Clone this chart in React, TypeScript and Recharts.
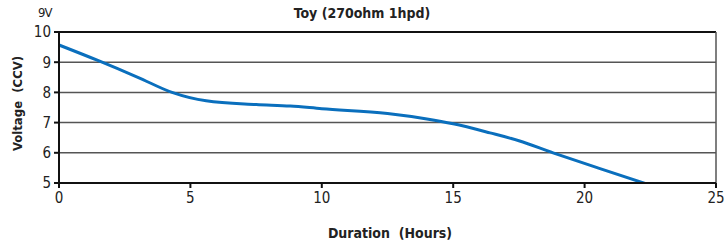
import React from 'react';
import { LineChart, Line, XAxis, YAxis, CartesianGrid, ReferenceLine } from 'recharts';

const hours = [0, 1.5, 3, 4.3, 5.6, 7.5, 8.8, 10, 12.5, 14, 15, 16.4, 17.5, 18.8, 20.5, 22.6];
const voltage = [9.57, 9.05, 8.5, 8.0, 7.72, 7.6, 7.55, 7.46, 7.3, 7.12, 6.96, 6.66, 6.4, 6.0, 5.5, 4.9];
const xTicks = [0, 5, 10, 15, 20, 25];
const yTicks = [5, 6, 7, 8, 9, 10];

const data = hours.map((h, i) => ({ h, v: voltage[i] }));

const FONT = '"Liberation Sans Narrow", "Arial Narrow", "DejaVu Sans Condensed", sans-serif';

export default function App() {
  return (
    <div style={{ position: 'absolute', left: 0, top: 0, width: 726, height: 248, background: '#fff', fontFamily: FONT }}>
      <LineChart width={726} height={248} data={data} margin={{ top: 32, right: 10, left: 0, bottom: 35 }}>
        <CartesianGrid vertical={false} stroke="#555" strokeWidth={1.5} />
        <XAxis
          dataKey="h"
          type="number"
          domain={[0, 25]}
          ticks={xTicks}
          height={30}
          stroke="#111"
          strokeWidth={2}
          tickSize={5}
          tickMargin={4}
          tick={{ fill: '#222', fontSize: 15, fontFamily: FONT }}
        />
        <YAxis
          type="number"
          domain={[5, 10]}
          ticks={yTicks}
          allowDataOverflow
          width={59}
          stroke="#111"
          strokeWidth={2}
          tickSize={5}
          tickMargin={3}
          tick={{ fill: '#222', fontSize: 15, fontFamily: FONT }}
        />
        <ReferenceLine y={10} stroke="#111" strokeWidth={2} />
        <ReferenceLine x={25} stroke="#555" strokeWidth={1.5} />
        <Line
          type="monotone"
          dataKey="v"
          stroke="#0a6fbd"
          strokeWidth={3}
          dot={false}
          isAnimationActive={false}
        />
      </LineChart>
      <div style={{ position: 'absolute', left: 250, width: 224, top: 5, textAlign: 'center', fontWeight: 'bold', fontSize: 14, color: '#222' }}>
        Toy (270ohm 1hpd)
      </div>
      <div style={{ position: 'absolute', left: 38, top: 5, fontSize: 13, color: '#222', letterSpacing: -1 }}>9V</div>
      <div style={{ position: 'absolute', left: 290, width: 200, top: 225, textAlign: 'center', fontWeight: 'bold', fontSize: 14, color: '#222' }}>
        Duration&nbsp;&nbsp;(Hours)
      </div>
      <div
        style={{
          position: 'absolute',
          left: 17,
          top: 105,
          width: 160,
          marginLeft: -80,
          marginTop: -9,
          textAlign: 'center',
          fontWeight: 'bold',
          fontSize: 13,
          color: '#222',
          transform: 'rotate(-90deg)',
          whiteSpace: 'nowrap',
        }}
      >
        Voltage&nbsp;&nbsp;(CCV)
      </div>
    </div>
  );
}
